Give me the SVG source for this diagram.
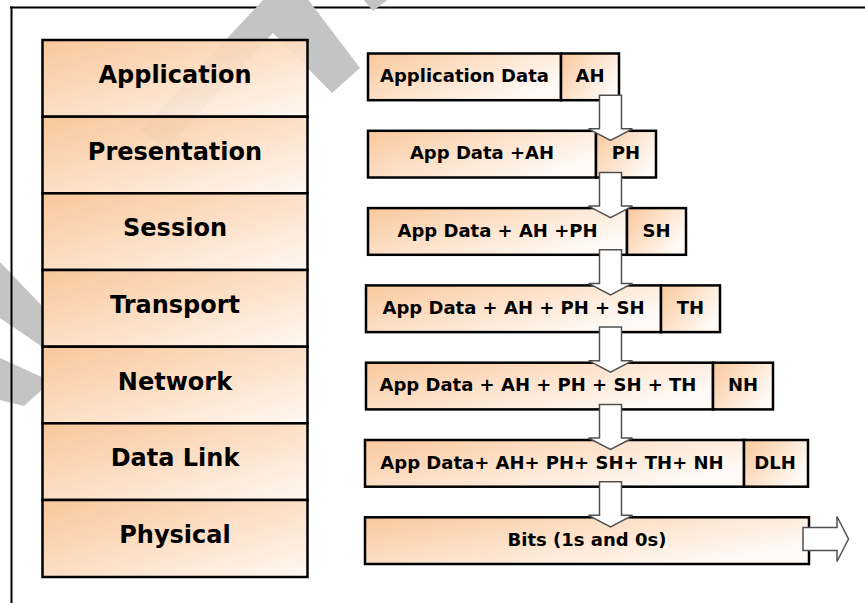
<svg xmlns="http://www.w3.org/2000/svg" width="865" height="603" viewBox="0 0 865 603">
  <style>
    .row { stroke: #000; stroke-width: 2.5; fill: url(#rowFill); fill-opacity: 0.92; }
    .box { stroke: #000; stroke-width: 2.5; fill: url(#boxFill); }
    .layer { font-family: "DejaVu Sans", Verdana, sans-serif; font-weight: bold; font-size: 24px; fill: #000; text-anchor: middle; }
    .pdu { font-family: "DejaVu Sans", Verdana, sans-serif; font-weight: bold; font-size: 18px; fill: #000; text-anchor: middle; }
    .arrow { fill: #fff; stroke: #505050; stroke-width: 1.5; stroke-linejoin: miter; }
    .frame { stroke: #000; stroke-width: 2; fill: none; }
    .mark { fill: #c4c4c4; }
  </style>
  <defs>
    <linearGradient id="rowFill" x1="0" y1="0" x2="1" y2="1">
      <stop offset="0" stop-color="#f8c292"/>
      <stop offset="0.5" stop-color="#fcdcc0"/>
      <stop offset="1" stop-color="#fff8f2"/>
    </linearGradient>
    <linearGradient id="boxFill" x1="0" y1="0" x2="1" y2="0.6">
      <stop offset="0" stop-color="#f9c89c"/>
      <stop offset="0.55" stop-color="#fde4ce"/>
      <stop offset="1" stop-color="#fffaf6"/>
    </linearGradient>
  </defs>

  <rect width="865" height="603" fill="#fff"/>

  <!-- page frame, top edge -->
  <path class="frame" d="M10,7.5 H865"/>

  <!-- background watermark shapes -->
  <g id="watermark">
    <polygon class="mark" points="141,130 265,-2 307,-2 360,68 332,93 273,33 165,150"/>
    <polygon class="mark" points="362,-2 390,-2 373,11"/>
    <polygon class="mark" points="0,262 44,308 44,348 0,318"/>
    <polygon class="mark" points="0,358 44,378 44,388 24,406 0,400"/>
  </g>

  <!-- page frame, left edge -->
  <path class="frame" d="M11.5,6.5 V603"/>

  <!-- OSI layer stack -->
  <g id="layer-application">
    <rect class="row" x="42.5" y="40" width="265" height="76.7"/>
    <text class="layer" x="175" y="83">Application</text>
  </g>
  <g id="layer-presentation">
    <rect class="row" x="42.5" y="116.7" width="265" height="76.6"/>
    <text class="layer" x="175" y="159.7">Presentation</text>
  </g>
  <g id="layer-session">
    <rect class="row" x="42.5" y="193.3" width="265" height="76.7"/>
    <text class="layer" x="175" y="236.3">Session</text>
  </g>
  <g id="layer-transport">
    <rect class="row" x="42.5" y="270" width="265" height="76.7"/>
    <text class="layer" x="175" y="313">Transport</text>
  </g>
  <g id="layer-network">
    <rect class="row" x="42.5" y="346.7" width="265" height="76.6"/>
    <text class="layer" x="175" y="389.7">Network</text>
  </g>
  <g id="layer-datalink">
    <rect class="row" x="42.5" y="423.3" width="265" height="76.7"/>
    <text class="layer" x="175" y="466.3">Data Link</text>
  </g>
  <g id="layer-physical">
    <rect class="row" x="42.5" y="500" width="265" height="77"/>
    <text class="layer" x="175" y="543">Physical</text>
  </g>

  <!-- encapsulated data units -->
  <g id="pdu-application">
    <rect class="box" x="368" y="53.5" width="193" height="46.7"/>
    <rect class="box" x="561" y="53.5" width="58" height="46.7"/>
    <text class="pdu" x="464.5" y="82">Application Data</text>
    <text class="pdu" x="590" y="82">AH</text>
  </g>
  <g id="pdu-presentation">
    <rect class="box" x="368" y="130.8" width="228" height="46.7"/>
    <rect class="box" x="596" y="130.8" width="60" height="46.7"/>
    <text class="pdu" x="482" y="159.3">App Data +AH</text>
    <text class="pdu" x="626" y="159.3">PH</text>
  </g>
  <g id="pdu-session">
    <rect class="box" x="368" y="208.1" width="259" height="46.7"/>
    <rect class="box" x="627" y="208.1" width="59" height="46.7"/>
    <text class="pdu" x="497.5" y="236.6">App Data + AH +PH</text>
    <text class="pdu" x="656.5" y="236.6">SH</text>
  </g>
  <g id="pdu-transport">
    <rect class="box" x="366" y="285.4" width="295" height="46.7"/>
    <rect class="box" x="661" y="285.4" width="59" height="46.7"/>
    <text class="pdu" x="513.5" y="313.9">App Data + AH + PH + SH</text>
    <text class="pdu" x="690.5" y="313.9">TH</text>
  </g>
  <g id="pdu-network">
    <rect class="box" x="366" y="362.7" width="347" height="46.7"/>
    <rect class="box" x="713" y="362.7" width="60" height="46.7"/>
    <text class="pdu" x="538" y="391.2">App Data + AH + PH + SH + TH</text>
    <text class="pdu" x="743" y="391.2">NH</text>
  </g>
  <g id="pdu-datalink">
    <rect class="box" x="365" y="440" width="379" height="46.7"/>
    <rect class="box" x="744" y="440" width="64" height="46.7"/>
    <text class="pdu" x="552" y="468.5">App Data+ AH+ PH+ SH+ TH+ NH</text>
    <text class="pdu" x="775" y="468.5">DLH</text>
  </g>
  <g id="pdu-physical">
    <rect class="box" x="365" y="517.3" width="444" height="46.7"/>
    <text class="pdu" x="587" y="545.8">Bits (1s and 0s)</text>
  </g>

  <!-- block arrows between layers -->
  <g id="connectors">
    <path class="arrow" d="M599.5,95.2 H621.5 V128.8 H632.5 L610.5,140.3 L588.5,128.8 H599.5 Z"/>
    <path class="arrow" d="M599.5,172.5 H621.5 V206.1 H632.5 L610.5,217.6 L588.5,206.1 H599.5 Z"/>
    <path class="arrow" d="M599.5,249.8 H621.5 V283.4 H632.5 L610.5,294.9 L588.5,283.4 H599.5 Z"/>
    <path class="arrow" d="M599.5,327.1 H621.5 V360.7 H632.5 L610.5,372.2 L588.5,360.7 H599.5 Z"/>
    <path class="arrow" d="M599.5,404.4 H621.5 V438 H632.5 L610.5,449.5 L588.5,438 H599.5 Z"/>
    <path class="arrow" d="M599.5,481.7 H621.5 V515.3 H632.5 L610.5,526.8 L588.5,515.3 H599.5 Z"/>
    <path class="arrow" d="M803,527.5 H837 V516.5 L848.5,539 L837,561.5 V550.5 H803 Z"/>
  </g>
</svg>
